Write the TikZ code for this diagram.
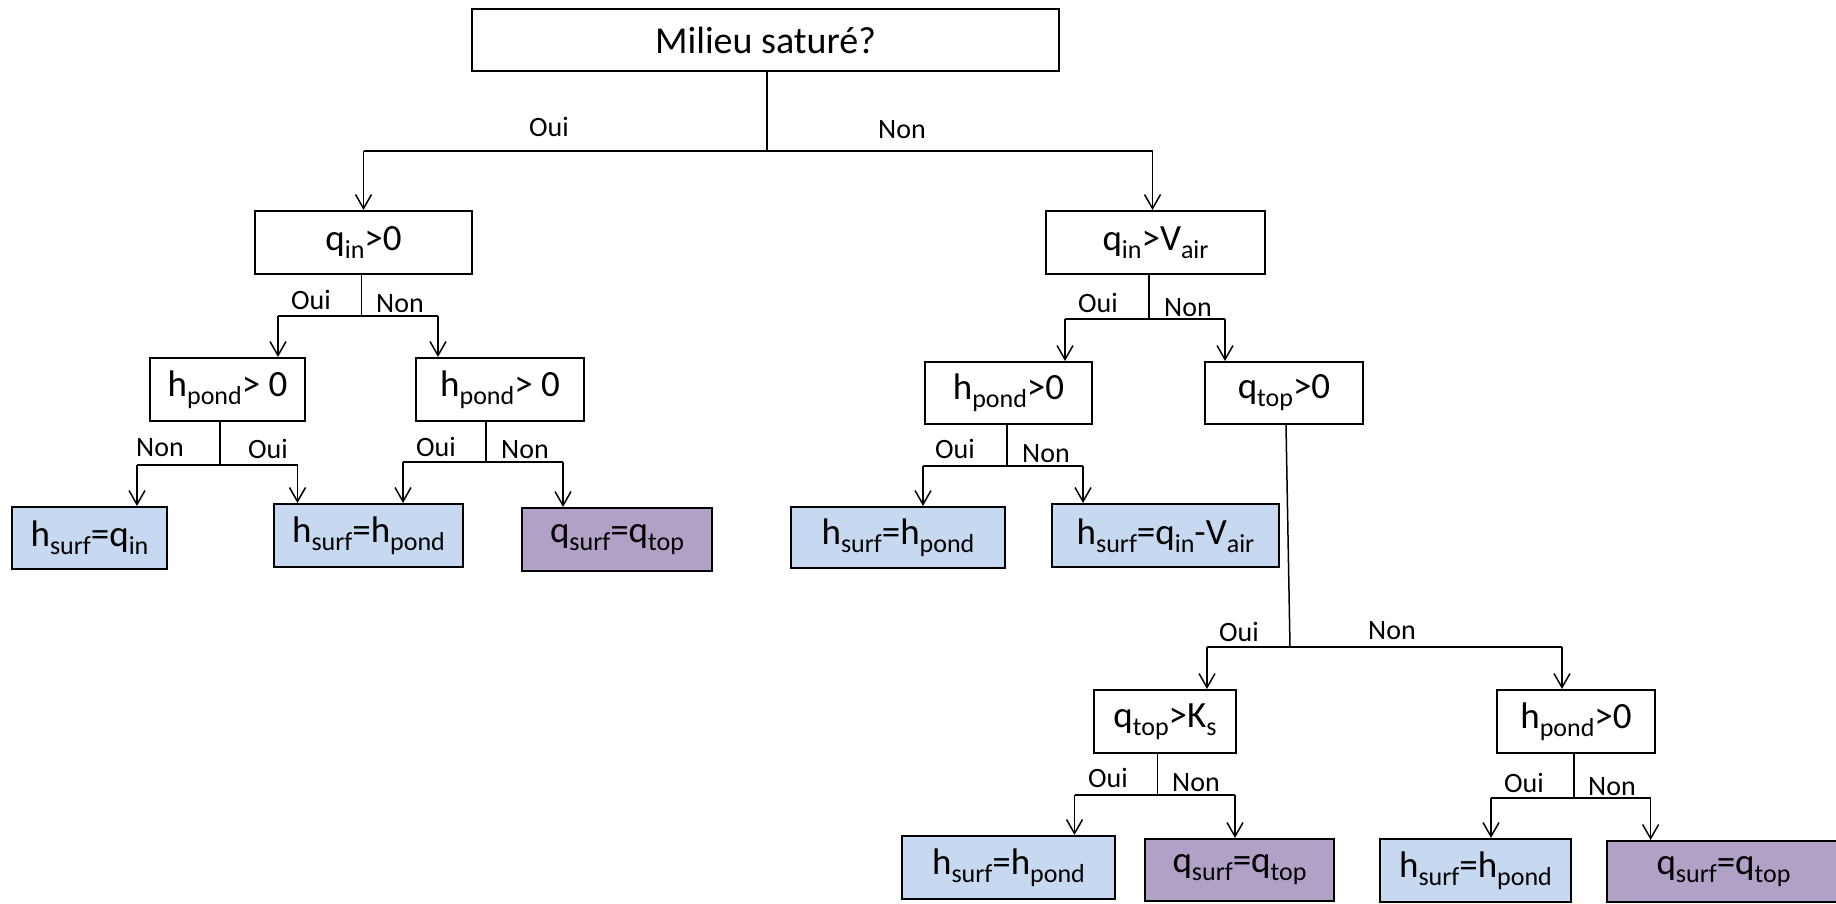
\documentclass[tikz,border=0pt]{standalone}
\usepackage{fontspec}
\setmainfont{Carlito}
\usetikzlibrary{arrows.meta}
\definecolor{lblue}{RGB}{198,217,241}
\definecolor{lpurple}{RGB}{178,161,199}
\newcommand{\lo}[1]{\raisebox{-8pt}{\fontsize{26}{30}\selectfont #1}}
\tikzset{
  box/.style={draw=black, line width=2pt, inner sep=0pt, font=\fontsize{37}{44}\selectfont, minimum height=63pt},
  bluebox/.style={box, fill=lblue},
  purpbox/.style={box, fill=lpurple},
  lab/.style={font=\fontsize{28}{34}\selectfont, inner sep=0pt},
  conn/.style={line width=1.5pt},
  arr/.style={conn, -{Straight Barb[length=14pt,width=16pt,line width=1.5pt]}}
}
\newcommand{\branch}[5]{%
  \draw[conn] (#2c |- #1.south) -- (#2c);
  \draw[conn] (#2l) -- (#2r);
  \draw[arr] (#2l) -- (#2l |- #3.north);
  \draw[arr] (#2r) -- (#2r |- #4.north);}
\begin{document}
\begin{tikzpicture}[x=1pt,y=-1pt]
\useasboundingbox (0,0) rectangle (1836,903);
% boxes
\node[box, line width=2.5pt, minimum width=587pt, minimum height=62pt, font=\fontsize{38}{46}\selectfont] (top) at (765.5,40) {Milieu saturé?};
\node[box, minimum width=217pt] (qin0) at (363.5,242.5) {q\lo{in}>0};
\node[box, minimum width=219pt] (qinV) at (1155.5,242.5) {q\lo{in}>V\lo{air}};
\node[box, minimum width=155pt] (hp1) at (227.5,389.5) {h\lo{pond}> 0};
\node[box, minimum width=168pt] (hp2) at (500,389.5) {h\lo{pond}> 0};
\node[box, minimum width=167pt, minimum height=62pt] (hp3) at (1008.5,393) {h\lo{pond}>0};
\node[box, minimum width=158pt, minimum height=62pt] (qt0) at (1284,393) {q\lo{top}>0};
\node[bluebox, minimum width=155pt, minimum height=62pt] (hsq) at (89.5,538) {h\lo{surf}=q\lo{in}};
\node[bluebox, minimum width=189pt] (hsh1) at (368.5,535.5) {h\lo{surf}=h\lo{pond}};
\node[purpbox, minimum width=190pt] (qsq1) at (617,539.5) {q\lo{surf}=q\lo{top}};
\node[bluebox, minimum width=214pt, minimum height=61pt] (hsh2) at (898,537.5) {h\lo{surf}=h\lo{pond}};
\node[bluebox, minimum width=227pt] (hsqv) at (1165.5,535.5) {h\lo{surf}=q\lo{in}-V\lo{air}};
\node[box, minimum width=142pt] (qtK) at (1165,721.5) {q\lo{top}>K\lo{s}};
\node[box, minimum width=158pt] (hp4) at (1576,721.5) {h\lo{pond}>0};
\node[bluebox, minimum width=213pt] (hsh3) at (1008.5,867.5) {h\lo{surf}=h\lo{pond}};
\node[purpbox, minimum width=189pt, minimum height=62pt] (qsq2) at (1239.5,870) {q\lo{surf}=q\lo{top}};
\node[bluebox, minimum width=191pt] (hsh4) at (1475.5,870.5) {h\lo{surf}=h\lo{pond}};
\node[purpbox, minimum width=233pt, minimum height=61pt] (qsq3) at (1723.5,871.5) {q\lo{surf}=q\lo{top}};
% junctions
\coordinate (j0c) at (767,151);   \coordinate (j0l) at (363.5,151); \coordinate (j0r) at (1152.5,151);
\coordinate (j1c) at (361.7,316); \coordinate (j1l) at (278,316);   \coordinate (j1r) at (438,316);
\coordinate (j2c) at (220,465);   \coordinate (j2l) at (137,465);   \coordinate (j2r) at (297.5,465);
\coordinate (j3c) at (486,462);   \coordinate (j3l) at (403,462);   \coordinate (j3r) at (563,462);
\coordinate (j4c) at (1149,319);  \coordinate (j4l) at (1065,319);  \coordinate (j4r) at (1225,319);
\coordinate (j5c) at (1007,466);  \coordinate (j5l) at (923,466);   \coordinate (j5r) at (1083,466);
\coordinate (j6c) at (1290,647);  \coordinate (j6l) at (1207,647);  \coordinate (j6r) at (1562,647);
\coordinate (j7c) at (1157.5,795);\coordinate (j7l) at (1074.5,795);\coordinate (j7r) at (1235,795);
\coordinate (j8c) at (1574,798);  \coordinate (j8l) at (1491,798);  \coordinate (j8r) at (1650.6,798);
% connectors
\branch{top}{j0}{qin0}{qinV}{}
\branch{qin0}{j1}{hp1}{hp2}{}
\branch{hp1}{j2}{hsq}{hsh1}{}
\branch{hp2}{j3}{hsh1}{qsq1}{}
\branch{qinV}{j4}{hp3}{qt0}{}
\branch{hp3}{j5}{hsh2}{hsqv}{}
\draw[conn] ([xshift=2pt]qt0.south) -- (j6c);
\draw[conn] (j6l) -- (j6r);
\draw[arr] (j6l) -- (j6l |- qtK.north);
\draw[arr] (j6r) -- (j6r |- hp4.north);
\branch{qtK}{j7}{hsh3}{qsq2}{}
\branch{hp4}{j8}{hsh4}{qsq3}{}
% labels
\node[lab] (l0o) at (549,127) {Oui};
\node[lab] (l0n) at (902,130) {Non};
\node[lab] (l1o) at (311,300) {Oui};
\node[lab] (l1n) at (400,304) {Non};
\node[lab] (l2n) at (160,448) {Non};
\node[lab] (l2o) at (268,449) {Oui};
\node[lab] (l3o) at (436,447) {Oui};
\node[lab] (l3n) at (525,450) {Non};
\node[lab] (l4o) at (1098,303) {Oui};
\node[lab] (l4n) at (1188,308) {Non};
\node[lab] (l5o) at (955,449) {Oui};
\node[lab] (l5n) at (1046,454) {Non};
\node[lab] (l6o) at (1239,632) {Oui};
\node[lab] (l6n) at (1392,631) {Non};
\node[lab] (l7o) at (1108,778) {Oui};
\node[lab] (l7n) at (1196,783) {Non};
\node[lab] (l8o) at (1524,783) {Oui};
\node[lab] (l8n) at (1612,787) {Non};
\end{tikzpicture}
\end{document}
